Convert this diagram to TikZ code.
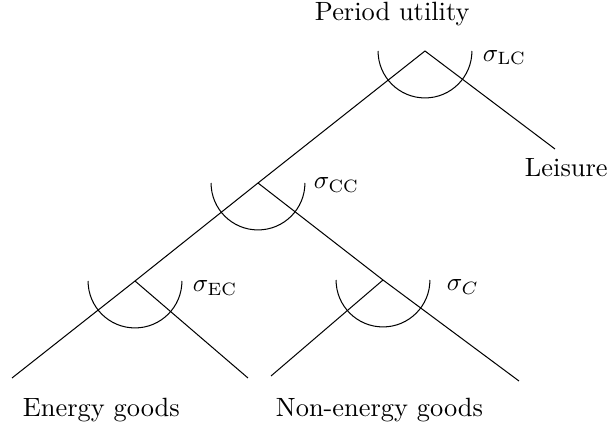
\documentclass[tikz,border=0pt]{standalone}
\begin{document}
\begin{tikzpicture}[x=0.392pt,y=-0.392pt,
  lbl/.style={anchor=base west,inner sep=0pt,outer sep=0pt,font=\fontsize{10.35}{12.4}\selectfont},
  branch/.style={line width=0.4pt},
  cesarc/.style={line width=0.4pt}]
\useasboundingbox (0,0) rectangle (610,430);
% nest points
\coordinate (P) at (425,51);
\coordinate (CC) at (258,183);
\coordinate (EC) at (135,281);
\coordinate (C) at (383,280);
% free ends
\coordinate (Lend) at (555,149);
\coordinate (Eleft) at (12,378);
\coordinate (Eright) at (248,378);
\coordinate (Nleft) at (271,376);
\coordinate (Nright) at (519,381);
% branches
\draw[branch] (P) -- (CC) -- (EC) -- (Eleft);
\draw[branch] (P) -- (Lend);
\draw[branch] (CC) -- (C) -- (Nright);
\draw[branch] (EC) -- (Eright);
\draw[branch] (C) -- (Nleft);
% elasticity arcs
\foreach \n in {P,CC,EC,C}{
  \draw[cesarc] (\n) ++(-18.4pt,0pt) arc[start angle=180,end angle=360,radius=18.4pt];
}
% labels
\node[lbl] (top) at (315,21) {Period utility};
\node[lbl] (sLC) at (483,61) {$\sigma_{\mathrm{LC}}$};
\node[lbl] (leis) at (525,177) {Leisure};
\node[lbl] (sCC) at (314,189) {$\sigma_{\mathrm{CC}}$};
\node[lbl] (sEC) at (193,292) {$\sigma_{\mathrm{EC}}$};
\node[lbl] (sC) at (447,291) {$\sigma_{C}$};
\node[lbl] (eg) at (23,417) {Energy goods};
\node[lbl] (neg) at (276,417) {Non-energy goods};
\end{tikzpicture}
\end{document}
